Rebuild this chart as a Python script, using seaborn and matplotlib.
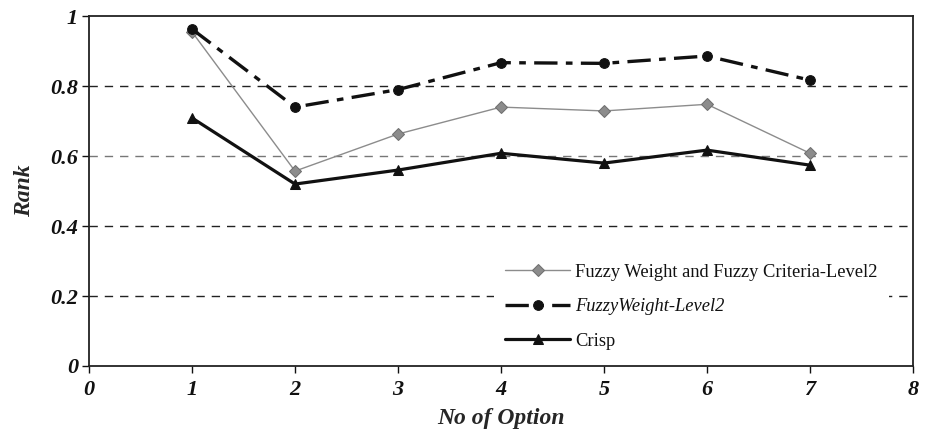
import numpy as np
import pandas as pd
import matplotlib
matplotlib.use("Agg")
import matplotlib.pyplot as plt
import seaborn as sns

# --- dados ---
opcoes = [1, 2, 3, 4, 5, 6, 7]
fuzzy_wc = [0.955, 0.557, 0.663, 0.740, 0.729, 0.748, 0.608]
fuzzy_w = [0.963, 0.740, 0.790, 0.867, 0.865, 0.886, 0.817]
crisp = [0.709, 0.520, 0.560, 0.608, 0.580, 0.617, 0.574]

x_ticks = [0, 1, 2, 3, 4, 5, 6, 7, 8]
y_ticks = [0, 0.2, 0.4, 0.6, 0.8, 1.0]
y_tick_labels = ["0", "0.2", "0.4", "0.6", "0.8", "1"]

sns.set_theme(style="white")
plt.rcParams['font.family'] = ['Liberation Serif', 'DejaVu Serif']

fig = plt.figure(figsize=(9.29, 4.36), dpi=100)
ax = fig.add_axes([0.0958, 0.1606, 0.887, 0.8024])

df = pd.DataFrame({'op': opcoes, 'fwc': fuzzy_wc, 'fw': fuzzy_w, 'crisp': crisp})

sns.lineplot(ax=ax, data=df, x='op', y='fwc', color='#8c8c8c', linewidth=1.0,
             marker='D', markersize=6.5, markerfacecolor='#8c8c8c', markeredgecolor='#707070',
             label='Fuzzy Weight and Fuzzy Criteria-Level2', zorder=3)
sns.lineplot(ax=ax, data=df, x='op', y='fw', color='#111111', linewidth=2.4,
             marker='o', markersize=7, markeredgecolor='#111111',
             label='FuzzyWeight-Level2', zorder=4)
ax.lines[-1].set_dashes((7, 2.5, 2, 2.5))
sns.lineplot(ax=ax, data=df, x='op', y='crisp', color='#111111', linewidth=2.3,
             marker='^', markersize=7.5, markeredgecolor='#111111',
             label='Crisp', zorder=4)

ax.set_xlim(0, 8)
ax.set_ylim(0, 1)
ax.set_xticks(x_ticks)
ax.set_xticklabels([str(v) for v in x_ticks])
ax.set_yticks(y_ticks)
ax.set_yticklabels(y_tick_labels)

for lbl in ax.get_xticklabels() + ax.get_yticklabels():
    lbl.set_fontweight('bold')
    lbl.set_fontstyle('italic')
    lbl.set_fontsize(16)
    lbl.set_color('#111111')

ax.tick_params(axis='both', direction='out', length=5, width=1, color='#111111', pad=3,
               bottom=True, left=True)
ax.tick_params(axis='x', pad=5)

# linhas de grade tracejadas
for yv in [0.2, 0.4, 0.6, 0.8]:
    cor = '#777777' if yv == 0.6 else '#222222'
    ax.axhline(yv, color=cor, linestyle=(0, (6, 5)), linewidth=1.0, zorder=1)

for s in ax.spines.values():
    s.set_color('#222222')
    s.set_linewidth(1.3)

ax.set_xlabel('No of Option', fontsize=17, fontweight='bold', fontstyle='italic', labelpad=6)
ax.set_ylabel('Rank', fontsize=17, fontweight='bold', fontstyle='italic', labelpad=11)

leg = ax.legend(loc='lower right', bbox_to_anchor=(0.982, -0.012), fontsize=13.3,
                frameon=True, facecolor='white', edgecolor='none', framealpha=1,
                handlelength=3.5, handletextpad=0.3, labelspacing=0.95, borderpad=0.6)
leg.set_zorder(5)
for t in leg.get_texts():
    t.set_color('#111111')
leg.get_texts()[1].set_fontstyle('italic')
leg.get_lines()[1].set_dashes((7, 2.5, 2, 2.5))

fig.savefig('out.png', dpi=100)
